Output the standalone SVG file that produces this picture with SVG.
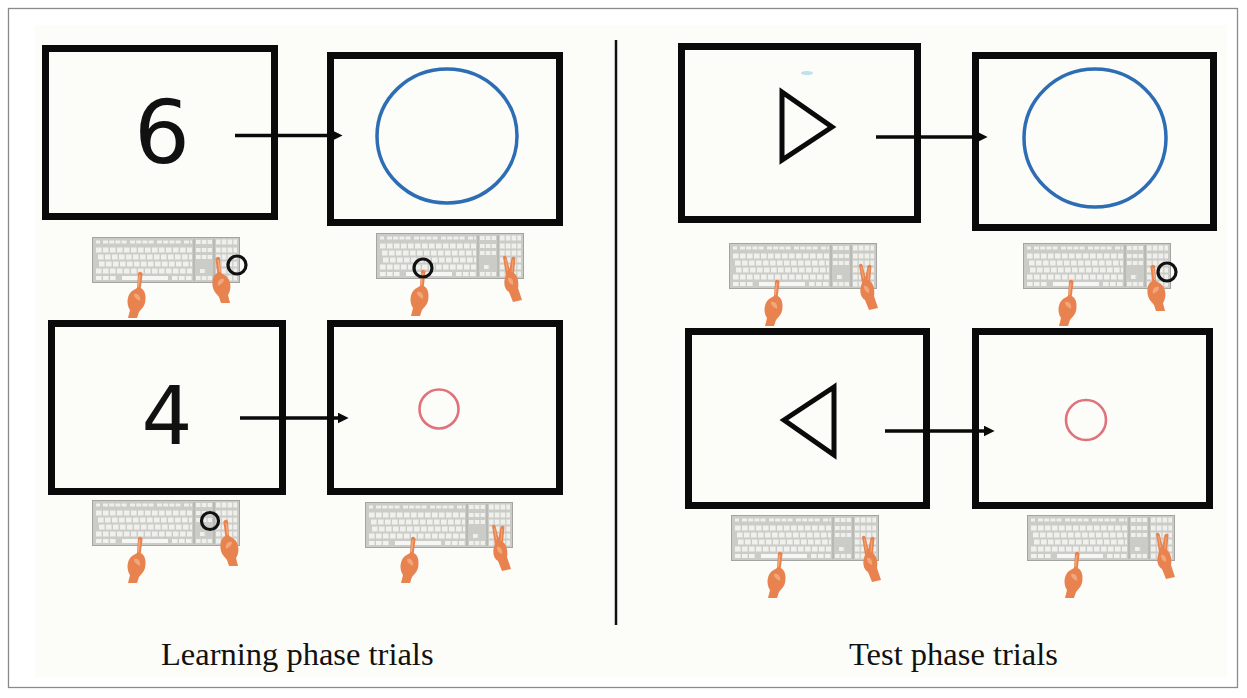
<svg xmlns="http://www.w3.org/2000/svg" xmlns:xlink="http://www.w3.org/1999/xlink" width="1247" height="698" viewBox="0 0 1247 698">
<style>
.screen{fill:none;stroke:#0a0a0a;stroke-width:7;stroke-linejoin:miter}
.digit{font-family:"DejaVu Sans","Liberation Sans",sans-serif;fill:#111;text-anchor:middle}
.tri{fill:none;stroke:#0a0a0a;stroke-width:5;stroke-linejoin:miter}
.big{fill:none;stroke:#2d6db4;stroke-width:3.5}
.small{fill:none;stroke:#e0727c;stroke-width:2.6}
.key-ring{fill:none;stroke:#111;stroke-width:3.2}
.conn{fill:none;stroke:#0a0a0a;stroke-width:3.5}
.label{font-family:"Liberation Serif","Times New Roman",serif;font-size:32.5px;fill:#111}
.skin{fill:#e8834f}
.skin-hi{fill:#f3a679}
</style>
<defs>
<marker id="ah" viewBox="0 0 10 10" refX="4" refY="5" markerWidth="11" markerHeight="11" markerUnits="userSpaceOnUse" orient="auto">
<path d="M0,0 L10,5 L0,10 Z" fill="#0a0a0a"/>
</marker>
<symbol id="kb" viewBox="0 0 148 46" width="148" height="46" overflow="visible">
<rect x="0.5" y="0.5" width="147" height="45" fill="#cbcbc7" stroke="#a4a4a0" stroke-width="1"/>
<path d="M4 5h4M11 5h24M38 5h24M65 5h24M92 5h8" stroke="#efefec" stroke-width="3" stroke-dasharray="5 1.2"/>
<path d="M4 13h96M6 20h94M7 27h93M4 34h96" stroke="#f0f0ed" stroke-width="5" stroke-dasharray="5.6 1.4"/>
<path d="M4 41h20M30 41h46M80 41h20" stroke="#f2f2ef" stroke-width="4" stroke-dasharray="5.6 1.4"/>
<path d="M30 41h46" stroke="#f6f6f4" stroke-width="4"/>
<path d="M104 5h16M104 13h16M104 20h16M108 34h6M104 41h16" stroke="#efefec" stroke-width="4" stroke-dasharray="4.6 1.2"/>
<path d="M124 5h21M124 13h21M124 20h21M124 27h21M124 34h21M124 41h21" stroke="#efefec" stroke-width="5" stroke-dasharray="4.6 1.2"/>
<path d="M102 2v42M122 2v42" stroke="#9e9e9a" stroke-width="0.8"/>
</symbol>
<symbol id="hp" overflow="visible">
<path class="skin" d="M-2,1 Q0.5,-1.5 2.6,1.5 L0.8,16 C5,18 6.5,24 5,31 C4,35 1,37 -1,40 L-3,46 L-12,46 L-10,38 C-14,32 -13,23 -8,19 L-3,16 Z"/>
<path class="skin-hi" d="M-1,3 L0.5,3 L-1,15 L-2.5,15 Z M-6,22 C-2,21 1,24 0,29 C-3,27 -6,26 -6,22 Z"/>
</symbol>
<symbol id="hv" overflow="visible">
<path class="skin" d="M-7,1 Q-5.5,-1.5 -3.5,1 L-0.5,13 L1.5,2 Q3.5,-0.5 5.5,2 L4,17 C8,20 9,27 8,32 L12,44 L3,46 L-1,36 C-6,33 -7,26 -4,19 Z"/>
<path class="skin-hi" d="M-5,3 L-4,3 L-2,14 L-3,15 Z M2.5,4 L3.5,4 L2.5,16 L1.5,16 Z M-2,22 C1,21 4,24 3,29 C0,28 -2,26 -2,22 Z"/>
</symbol>
</defs>

<rect x="8.5" y="8.5" width="1229" height="679" fill="#ffffff" stroke="#8a8a8a" stroke-width="1.3"/>
<rect x="35" y="25" width="1192" height="652" fill="#fcfcf9"/>

<line id="divider" x1="616" y1="40" x2="616" y2="625" stroke="#111" stroke-width="2.5"/>

<!-- Learning phase -->
<g id="learn-top-cue">
<rect class="screen" x="45.5" y="48.5" width="229" height="168"/>
<text class="digit" x="162" y="163" font-size="88">6</text>
</g>
<g id="learn-top-target">
<rect class="screen" x="330.5" y="55.5" width="229" height="167"/>
<ellipse class="big" cx="447" cy="136" rx="70" ry="67"/>
</g>
<g id="learn-top-cue-keys">
<use xlink:href="#kb" href="#kb" x="92" y="237"/>
<use xlink:href="#hp" href="#hp" x="140" y="272"/>
<use xlink:href="#hp" href="#hp" transform="translate(218,257) scale(-1,1)"/>
<circle class="key-ring" cx="237" cy="265" r="9"/>
</g>
<g id="learn-top-target-keys">
<use xlink:href="#kb" href="#kb" x="376" y="233"/>
<use xlink:href="#hp" href="#hp" x="423" y="270"/>
<use xlink:href="#hv" href="#hv" x="510" y="256"/>
<circle class="key-ring" cx="423" cy="268" r="9"/>
</g>
<g id="learn-bottom-cue">
<rect class="screen" x="51.5" y="323.5" width="231" height="168"/>
<text class="digit" x="167" y="444" font-size="80">4</text>
</g>
<g id="learn-bottom-target">
<rect class="screen" x="330.5" y="323.5" width="229" height="168"/>
<circle class="small" cx="439" cy="409" r="19.5"/>
</g>
<g id="learn-bottom-cue-keys">
<use xlink:href="#kb" href="#kb" x="92" y="500"/>
<use xlink:href="#hp" href="#hp" x="140" y="537"/>
<use xlink:href="#hp" href="#hp" transform="translate(226,520) scale(-1,1)"/>
<circle class="key-ring" cx="210" cy="521" r="8.5"/>
</g>
<g id="learn-bottom-target-keys">
<use xlink:href="#kb" href="#kb" x="365" y="502"/>
<use xlink:href="#hp" href="#hp" x="413" y="537"/>
<use xlink:href="#hv" href="#hv" x="499" y="525"/>
</g>

<!-- Test phase -->
<g id="test-top-cue">
<rect class="screen" x="681.5" y="46.5" width="236" height="173"/>
<polygon class="tri" points="782,92 832,127 782,160"/>
<ellipse cx="807" cy="73" rx="6" ry="2" fill="#bfe0ee"/>
</g>
<g id="test-top-target">
<rect class="screen" x="975.5" y="55.5" width="238" height="172"/>
<ellipse class="big" cx="1095" cy="138" rx="71" ry="69"/>
</g>
<g id="test-top-cue-keys">
<use xlink:href="#kb" href="#kb" x="729" y="243"/>
<use xlink:href="#hp" href="#hp" x="777" y="280"/>
<use xlink:href="#hv" href="#hv" x="866" y="264"/>
</g>
<g id="test-top-target-keys">
<use xlink:href="#kb" href="#kb" x="1023" y="243"/>
<use xlink:href="#hp" href="#hp" x="1071" y="280"/>
<use xlink:href="#hp" href="#hp" transform="translate(1153,265) scale(-1,1)"/>
<circle class="key-ring" cx="1167" cy="272" r="9"/>
</g>
<g id="test-bottom-cue">
<rect class="screen" x="688.5" y="331.5" width="238" height="174"/>
<polygon class="tri" points="834,387 784,420 834,455"/>
</g>
<g id="test-bottom-target">
<rect class="screen" x="975.5" y="331.5" width="234" height="174"/>
<circle class="small" cx="1086" cy="420" r="20"/>
</g>
<g id="test-bottom-cue-keys">
<use xlink:href="#kb" href="#kb" x="731" y="515"/>
<use xlink:href="#hp" href="#hp" x="780" y="552"/>
<use xlink:href="#hv" href="#hv" x="869" y="536"/>
</g>
<g id="test-bottom-target-keys">
<use xlink:href="#kb" href="#kb" x="1027" y="515"/>
<use xlink:href="#hp" href="#hp" x="1077" y="552"/>
<use xlink:href="#hv" href="#hv" x="1163" y="533"/>
</g>

<g id="connectors">
<path class="conn" d="M235 135.5 H336" marker-end="url(#ah)"/>
<path class="conn" d="M240 418 H342" marker-end="url(#ah)"/>
<path class="conn" d="M876 137 H981" marker-end="url(#ah)"/>
<path class="conn" d="M885 431 H988" marker-end="url(#ah)"/>
</g>

<g id="labels">
<text class="label" x="161" y="665">Learning phase trials</text>
<text class="label" x="849" y="665">Test phase trials</text>
</g>
</svg>
